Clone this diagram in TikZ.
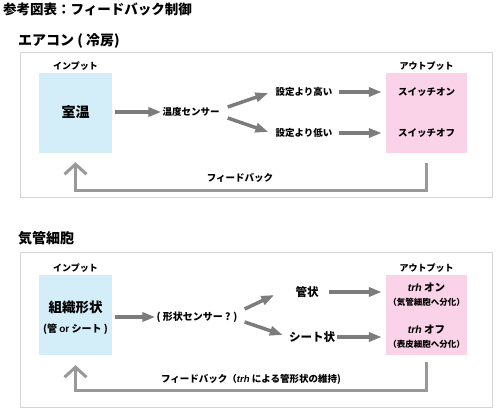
\documentclass[tikz,border=0pt]{standalone}
\usepackage{fontspec}
\setmainfont{Noto Sans CJK JP}
\newfontfamily\latinfont{Liberation Sans}
\usetikzlibrary{arrows.meta}

\definecolor{inblue}{HTML}{D3EEF9}
\definecolor{outpink}{HTML}{FAD3E8}
\definecolor{flowgray}{HTML}{7C7C7C}
\definecolor{fbgray}{HTML}{999999}
\definecolor{framegray}{HTML}{D4D4D4}
\newcommand{\gene}{{\latinfont\bfseries\itshape trh}}

\tikzset{
  panel/.style={draw=framegray, line width=0.8pt},
  inbox/.style={fill=inblue, minimum width=73pt, minimum height=80pt, inner sep=0pt},
  outbox/.style={fill=outpink, minimum width=81pt, minimum height=80pt, inner sep=0pt},
  lbl/.style={font=\bfseries\fontsize{9.5}{10}\selectfont, inner sep=1pt},
  small/.style={font=\bfseries\fontsize{8.5}{9}\selectfont, inner sep=1pt},
  flow/.style={draw=flowgray, line width=3.5pt, -{Triangle[length=13pt,width=9pt]}},
  fb/.style={draw=fbgray, line width=3pt, -{Straight Barb[length=10pt,width=22pt]}},
}

\begin{document}
\begin{tikzpicture}[x=1pt,y=-1pt]
\useasboundingbox (0,0) rectangle (503,419);
\fill[white] (0,0) rectangle (503,419);

% headings
\path (3,9) node[anchor=west, inner sep=0pt, font=\bfseries\fontsize{13.5}{14}\selectfont] (title) {参考図表：フィードバック制御}
      (18,41) node[anchor=west, inner sep=0pt, font=\bfseries\fontsize{14}{15}\selectfont] (head1) {エアコン ( 冷房)}
      (18,238) node[anchor=west, inner sep=0pt, font=\bfseries\fontsize{14}{15}\selectfont] (head2) {気管細胞};

% panel 1: air conditioner
\draw[panel] (20,52) rectangle (492,197);
\path (75.5,113) node[inbox] (in1) {}
      (426.5,113) node[outbox] (out1) {}
      (75.5,66) node[small, font=\bfseries\fontsize{9}{10}\selectfont] (inlbl1) {インプット}
      (426.5,66) node[small, font=\bfseries\fontsize{9}{10}\selectfont] (outlbl1) {アウトプット}
      (75.5,112) node[font=\bfseries\fontsize{14}{15}\selectfont] (room) {室温}
      (191,112) node[lbl] (sens1) {温度センサー}
      (304,92) node[lbl] (hi) {設定より高い}
      (304,133) node[lbl] (lo) {設定より低い}
      (426.5,92) node[lbl] (on1) {スイッチオン}
      (426.5,133) node[lbl] (off1) {スイッチオフ}
      (240,178) node[lbl] (fblbl1) {フィードバック};
\draw[flow] ([xshift=3pt]in1.east |- room) -- (sens1.west);
\draw[flow] ([shift={(7,-5)}]sens1.east) -- ([shift={(-6,1)}]hi.west);
\draw[flow] ([shift={(7,6)}]sens1.east) -- ([shift={(-6,-1)}]lo.west);
\draw[flow] ([xshift=5pt]hi.east) -- ([xshift=-4pt]out1.west |- hi);
\draw[flow] ([xshift=5pt]lo.east) -- ([xshift=-4pt]out1.west |- lo);
\draw[fb] ([yshift=-10pt]out1.south) -- ++(0,27) -| ([yshift=-9pt]in1.south);

% panel 2: tracheal cells
\draw[panel] (20,252) rectangle (492,407);
\path (75.5,315) node[inbox] (in2) {}
      (426.5,315) node[outbox] (out2) {}
      (75.5,268) node[small, font=\bfseries\fontsize{9}{10}\selectfont] (inlbl2) {インプット}
      (426.5,268) node[small, font=\bfseries\fontsize{9}{10}\selectfont] (outlbl2) {アウトプット}
      (75.5,307) node[font=\bfseries\fontsize{13.5}{14}\selectfont] (tissue) {組織形状}
      (75.5,329) node[font=\bfseries\fontsize{10}{11}\selectfont, inner sep=1pt] (tissue2) {(管 {\latinfont or} シート )}
      (197,317) node[font=\bfseries\fontsize{10}{11}\selectfont, inner sep=1pt] (sens2) {( 形状センサー ? )}
      (307,292) node[font=\bfseries\fontsize{11.5}{12}\selectfont, inner sep=1pt] (tube) {管状}
      (312,337) node[font=\bfseries\fontsize{11.5}{12}\selectfont, inner sep=1pt] (sheet) {シート状}
      (426.5,288) node[font=\bfseries\fontsize{10.5}{11}\selectfont, inner sep=1pt] (on2) {\gene{} オン}
      (426.5,302) node[small] (on2b) {（気管細胞へ分化）}
      (426.5,330) node[font=\bfseries\fontsize{10.5}{11}\selectfont, inner sep=1pt] (off2) {\gene{} オフ}
      (426.5,344) node[small] (off2b) {（表皮細胞へ分化）}
      (251,379) node[lbl] (fblbl2) {フィードバック（\gene{} による管形状の維持)};
\draw[flow] ([xshift=3pt]in2.east |- sens2) -- (sens2.west);
\draw[flow] ([shift={(6,-8)}]sens2.east) -- ([shift={(-20,3)}]tube.west);
\draw[flow] ([shift={(6,5)}]sens2.east) -- ([shift={(-5,-2)}]sheet.west);
\draw[flow] ([xshift=9pt]tube.east) -- ([xshift=-4pt]out2.west |- tube);
\draw[flow] ([xshift=1pt]sheet.east) -- ([xshift=-4pt]out2.west |- sheet);
\draw[fb] ([yshift=-7pt]out2.south) -- ++(0,28) -| ([yshift=-10pt]in2.south);
\end{tikzpicture}
\end{document}
